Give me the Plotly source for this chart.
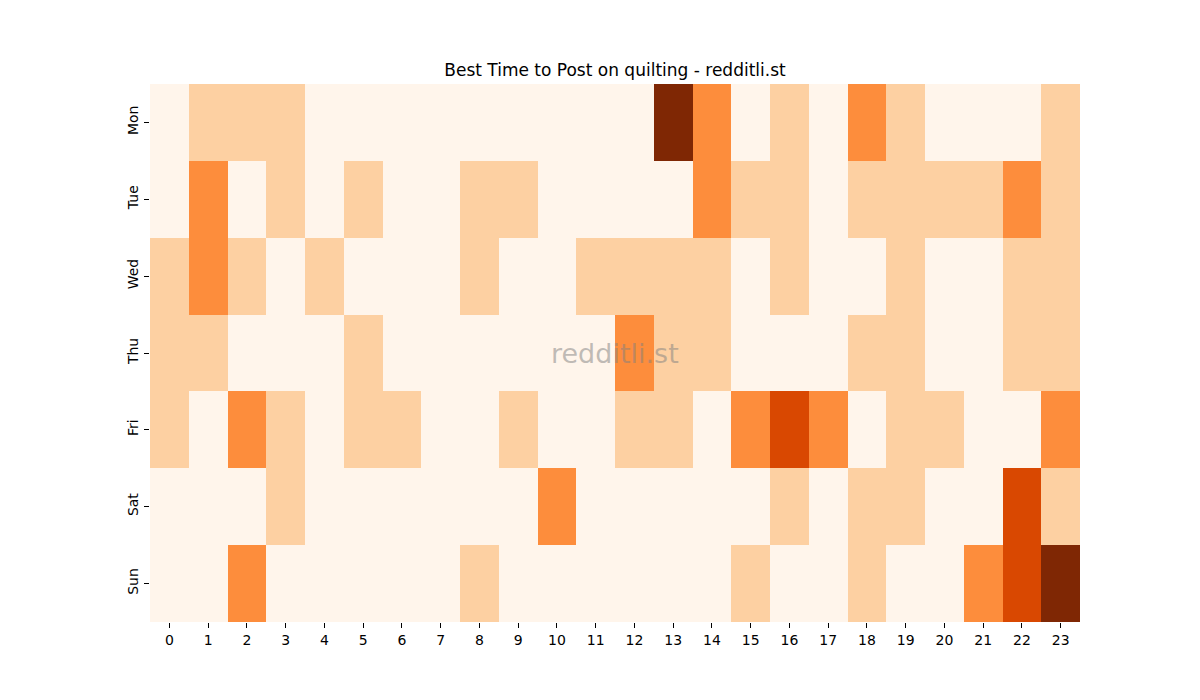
import plotly.graph_objects as go

hours = [str(h) for h in range(24)]
days = ["Mon", "Tue", "Wed", "Thu", "Fri", "Sat", "Sun"]

mon = [0, 1, 1, 1, 0, 0, 0, 0, 0, 0, 0, 0, 0, 4, 2, 0, 1, 0, 2, 1, 0, 0, 0, 1]
tue = [0, 2, 0, 1, 0, 1, 0, 0, 1, 1, 0, 0, 0, 0, 2, 1, 1, 0, 1, 1, 1, 1, 2, 1]
wed = [1, 2, 1, 0, 1, 0, 0, 0, 1, 0, 0, 1, 1, 1, 1, 0, 1, 0, 0, 1, 0, 0, 1, 1]
thu = [1, 1, 0, 0, 0, 1, 0, 0, 0, 0, 0, 0, 2, 1, 1, 0, 0, 0, 1, 1, 0, 0, 1, 1]
fri = [1, 0, 2, 1, 0, 1, 1, 0, 0, 1, 0, 0, 1, 1, 0, 2, 3, 2, 0, 1, 1, 0, 0, 2]
sat = [0, 0, 0, 1, 0, 0, 0, 0, 0, 0, 2, 0, 0, 0, 0, 0, 1, 0, 1, 1, 0, 0, 3, 1]
sun = [0, 0, 2, 0, 0, 0, 0, 0, 1, 0, 0, 0, 0, 0, 0, 1, 0, 0, 1, 0, 0, 2, 3, 4]

z = [mon, tue, wed, thu, fri, sat, sun]

colors = ["#fff5eb", "#fdd0a2", "#fd8d3c", "#d94801", "#7f2704"]
colorscale = [[i / 4, c] for i, c in enumerate(colors)]

fig = go.Figure(go.Heatmap(
    z=z, x=hours, y=days,
    colorscale=colorscale, zmin=0, zmax=4,
    showscale=False, xgap=0, ygap=0,
    hoverongaps=False,
))

font = "DejaVu Sans"
fig.update_layout(
    width=1200, height=700,
    margin=dict(l=150, r=120, t=84, b=78),
    paper_bgcolor="white", plot_bgcolor="white",
    font=dict(family=font, size=14, color="black"),
    title=dict(text="Best Time to Post on quilting - redditli.st",
               x=615 / 1200, xanchor="center", y=1 - 70 / 700, yanchor="middle",
               font=dict(family=font, size=17, color="black")),
    annotations=[dict(text="redditli.st", x=0.5, y=0.5, xref="paper", yref="paper",
                      showarrow=False,
                      font=dict(family=font, size=27, color="rgba(128,128,128,0.5)"))],
)
fig.update_xaxes(type="category", ticks="outside", ticklen=5, tickcolor="black",
                 showgrid=False, zeroline=False, showline=False,
                 tickfont=dict(family=font, size=14))
fig.update_yaxes(type="category", autorange="reversed", ticks="outside", ticklen=5,
                 tickcolor="black", tickangle=-90, showgrid=False, zeroline=False,
                 showline=False, tickfont=dict(family=font, size=14))

fig.write_html("out.html")
